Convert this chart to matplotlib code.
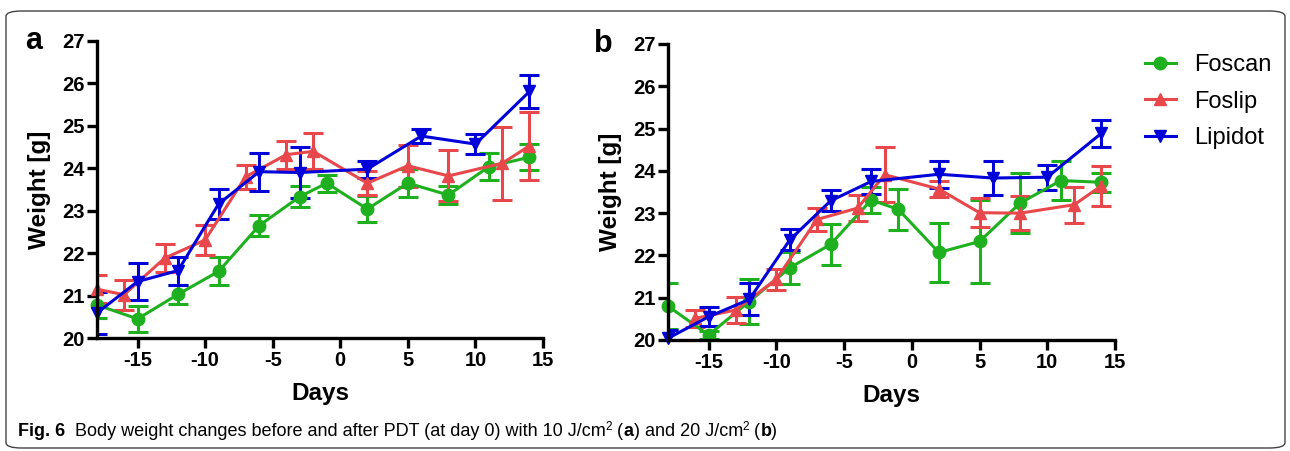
import matplotlib
matplotlib.use('Agg')
import matplotlib.pyplot as plt
from matplotlib.patches import FancyBboxPatch

plt.rcParams['font.family'] = ['Liberation Sans', 'DejaVu Sans']

# Panel a (10 J/cm2)
a_foscan_x = [-18, -15, -12, -9, -6, -3, -1, 2, 5, 8, 11, 14]
a_foscan_y = [20.78, 20.45, 21.03, 21.57, 22.65, 23.33, 23.65, 23.04, 23.65, 23.37, 24.04, 24.26]
a_foscan_e = [0.30, 0.30, 0.23, 0.33, 0.25, 0.25, 0.20, 0.30, 0.33, 0.22, 0.31, 0.31]

a_foslip_x = [-18, -16, -13, -10, -7, -4, -2, 2, 5, 8, 12, 14]
a_foslip_y = [21.15, 21.02, 21.88, 22.31, 23.80, 24.32, 24.40, 23.65, 24.06, 23.82, 24.12, 24.53]
a_foslip_e = [0.33, 0.35, 0.33, 0.35, 0.28, 0.33, 0.42, 0.28, 0.50, 0.60, 0.86, 0.80]

a_lipidot_x = [-18, -15, -12, -9, -6, -3, 2, 6, 10, 14]
a_lipidot_y = [20.59, 21.33, 21.59, 23.16, 23.92, 23.90, 23.98, 24.76, 24.57, 25.81]
a_lipidot_e = [0.50, 0.43, 0.33, 0.35, 0.45, 0.60, 0.20, 0.17, 0.23, 0.40]

# Panel b (20 J/cm2)
b_foscan_x = [-18, -15, -12, -9, -6, -3, -1, 2, 5, 8, 11, 14]
b_foscan_y = [20.80, 20.12, 20.91, 21.71, 22.26, 23.31, 23.09, 22.07, 22.33, 23.24, 23.77, 23.73]
b_foscan_e = [0.55, 0.10, 0.54, 0.38, 0.48, 0.30, 0.48, 0.70, 0.98, 0.70, 0.47, 0.22]

b_foslip_x = [-16, -13, -10, -7, -4, -2, 2, 5, 8, 12, 14]
b_foslip_y = [20.51, 20.71, 21.44, 22.85, 23.12, 23.91, 23.57, 23.01, 23.00, 23.20, 23.65]
b_foslip_e = [0.20, 0.30, 0.25, 0.27, 0.30, 0.65, 0.20, 0.34, 0.40, 0.43, 0.47]

b_lipidot_x = [-18, -15, -12, -9, -6, -3, 2, 6, 10, 14]
b_lipidot_y = [20.04, 20.55, 20.96, 22.37, 23.29, 23.75, 23.92, 23.83, 23.85, 24.89]
b_lipidot_e = [0.20, 0.23, 0.38, 0.25, 0.25, 0.30, 0.32, 0.40, 0.30, 0.32]

labels = ['Foscan', 'Foslip', 'Lipidot']
colors = ['#1fb01f', '#e8484c', '#0000d8']
markers = ['o', '^', 'v']

x_ticks = [-15, -10, -5, 0, 5, 10, 15]
y_ticks = [20, 21, 22, 23, 24, 25, 26, 27]

W, H = 1290, 451
fig = plt.figure(figsize=(W / 100, H / 100), dpi=100)


def px_axes(left, top, right, bottom):
    return fig.add_axes([left / W, 1 - bottom / H, (right - left) / W, (bottom - top) / H])


def draw_panel(ax, series, letter):
    for (xs, ys, es), lab, col, mk in zip(series, labels, colors, markers):
        cont = ax.errorbar(xs, ys, yerr=es, color=col, marker=mk, ms=9, lw=2.2,
                           elinewidth=2.2, capsize=7, capthick=2.2, label=lab)
        cont.lines[0].set_clip_on(False)
    ax.set_xlim(-18, 15)
    ax.set_ylim(20, 27)
    ax.set_xticks(x_ticks)
    ax.set_yticks(y_ticks)
    ax.set_xticklabels(['-15', '-10', '-5', '0', '5', '10', '15'])
    for s in ['top', 'right']:
        ax.spines[s].set_visible(False)
    for s in ['left', 'bottom']:
        ax.spines[s].set_linewidth(2.4)
    ax.tick_params(width=2.4, length=7, labelsize=14.5, pad=2)
    for t in ax.get_xticklabels() + ax.get_yticklabels():
        t.set_fontweight('bold')
    ax.set_xlabel('Days', fontsize=17.5, fontweight='bold', labelpad=9)
    ax.set_ylabel('Weight [g]', fontsize=17.5, fontweight='bold', labelpad=8)
    ax.text(-0.124, 1.0, letter, transform=ax.transAxes, fontsize=22,
            fontweight='bold', ha='right', va='center')


ax1 = px_axes(97, 41, 543, 338)
ax2 = px_axes(668, 44, 1115, 340)

draw_panel(ax1, [(a_foscan_x, a_foscan_y, a_foscan_e),
                 (a_foslip_x, a_foslip_y, a_foslip_e),
                 (a_lipidot_x, a_lipidot_y, a_lipidot_e)], 'a')
draw_panel(ax2, [(b_foscan_x, b_foscan_y, b_foscan_e),
                 (b_foslip_x, b_foslip_y, b_foslip_e),
                 (b_lipidot_x, b_lipidot_y, b_lipidot_e)], 'b')

leg_handles = [plt.Line2D([], [], color=c, marker=m, ms=9, lw=2.2) for c, m in zip(colors, markers)]
fig.legend(leg_handles, labels, loc='upper left', bbox_to_anchor=(1145 / W, 1 - 54 / H),
           frameon=False, fontsize=17, handlelength=1.3, handletextpad=0.8, labelspacing=0.62,
           borderpad=0, borderaxespad=0)

# rounded border around the figure
border = FancyBboxPatch((6 / W, 3 / H), 1279 / W, 437 / H, boxstyle='round,pad=0,rounding_size=0.012',
                        transform=fig.transFigure, fill=False, ec='#444444', lw=1.0)
fig.patches.append(border)

# caption built from pieces (bold / superscript)
pieces = [('Fig. 6', 'bold', False), ('  Body weight changes before and after PDT (at day 0) with 10 J/cm', 'normal', False),
          ('2', 'normal', True), (' (', 'normal', False), ('a', 'bold', False), (') and 20 J/cm', 'normal', False),
          ('2', 'normal', True), (' (', 'normal', False), ('b', 'bold', False), (')', 'normal', False)]
renderer = fig.canvas.get_renderer()
xpos = 18
base_y = 432
for txt, wt, sup in pieces:
    size = 8.5 if sup else 13
    yy = base_y - 5 if sup else base_y
    t = fig.text(xpos / W, 1 - yy / H, txt, fontsize=size, fontweight=wt, ha='left', va='center')
    bb = t.get_window_extent(renderer=renderer)
    xpos += bb.width

fig.savefig('out.png', dpi=100)
